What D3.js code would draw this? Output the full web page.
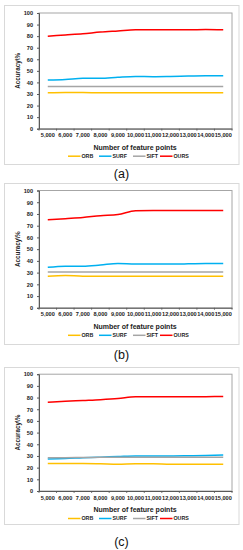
<!DOCTYPE html>
<html><head><meta charset="utf-8">
<script src="https://cdn.jsdelivr.net/npm/d3@7"></script>
<style>
html,body{margin:0;padding:0;background:#fff;}
svg{display:block;}
text{font-family:"Liberation Sans",Arial,sans-serif;}
</style></head>
<body>
<script>
const categories = ["5,000","6,000","7,000","8,000","9,000","10,000","11,000","12,000","13,000","14,000","15,000"];
const yTicks = [0,10,20,30,40,50,60,70,80,90,100];
const seriesNames = ["ORB","SURF","SIFT","OURS"];
const seriesColors = ["#FFC000","#00B0F0","#A5A5A5","#FF0000"];

// panel (a)
const orbA  = [31,31.2,31.2,31,31,31,31,31,31,31,31];
const surfA = [42,42.5,43.5,43.5,44.5,45.2,45,45.2,45.5,45.8,45.8];
const siftA = [36.5,36.5,36.5,36.5,36.5,36.5,36.5,36.5,36.5,36.5,36.5];
const oursA = [80,81,82,83.5,84.5,85.5,85.5,85.5,85.5,85.7,85.5];
// panel (b)
const orbB  = [27,27.5,27,27,27,27,27,27,27,27,27];
const surfB = [34.5,35.5,35.5,36.5,37.8,37.3,37.3,37.3,37.5,37.8,37.8];
const siftB = [30.5,30.5,30.5,30.5,30.5,30.5,30.5,30.5,30.5,30.5,30.5];
const oursB = [75,76,77,78.5,79.5,82.8,83,83,83,83,83];
// panel (c)
const orbC  = [23.5,23.5,23.5,23.3,23,23.3,23.3,23,23,23,23];
const surfC = [27.5,27.8,28.5,29,29.5,30,30,30,30.2,30.5,30.8];
const siftC = [28.5,28.5,28.7,28.8,29,29,29,29,29,29,29];
const oursC = [76,76.8,77.5,78.2,79.2,80.8,80.6,80.6,80.6,80.8,81];

const panels = [
  {label:"(a)", data:[orbA,surfA,siftA,oursA], boxTop:5,   boxBot:164, plotTop:13,  plotBot:128.7, capY:177.5},
  {label:"(b)", data:[orbB,surfB,siftB,oursB], boxTop:183, boxBot:344, plotTop:190.5, plotBot:307.8, capY:358.5},
  {label:"(c)", data:[orbC,surfC,siftC,oursC], boxTop:367, boxBot:524, plotTop:374.2, plotBot:491, capY:545.5}
];

const svg = d3.select("body").append("svg").attr("width",243).attr("height",550);

const plotLeft = 39, plotRight = 232;

panels.forEach(p => {
  const g = svg.append("g");
  g.append("rect").attr("x",4.5).attr("y",p.boxTop+0.5).attr("width",234.5).attr("height",p.boxBot-p.boxTop)
    .attr("fill","#fff").attr("stroke","#d9d9d9").attr("stroke-width",1);

  const x = d3.scaleBand().domain(categories).range([plotLeft,plotRight]);
  const y = d3.scaleLinear().domain([0,100]).range([p.plotBot,p.plotTop]);

  g.append("rect").attr("x",plotLeft).attr("y",p.plotTop).attr("width",plotRight-plotLeft).attr("height",p.plotBot-p.plotTop)
    .attr("fill","none").attr("stroke","#a6a6a6").attr("stroke-width",1);

  const ya = g.append("g").attr("transform",`translate(${plotLeft},0)`)
    .call(d3.axisLeft(y).tickValues(yTicks).tickSize(2).tickPadding(4));
  ya.select(".domain").attr("stroke","#595959");
  ya.selectAll(".tick line").attr("stroke","#595959");
  ya.selectAll("text").attr("font-size",5.6).attr("font-weight","bold").attr("fill","#222").attr("font-family","'Liberation Sans',Arial,sans-serif");

  const xa = g.append("g").attr("transform",`translate(0,${p.plotBot})`)
    .call(d3.axisBottom(x).tickSize(0).tickPadding(8));
  xa.select(".domain").attr("stroke","#595959");
  xa.selectAll("text").attr("font-size",5.6).attr("font-weight","bold").attr("fill","#222").attr("dy","0.1em").attr("font-family","'Liberation Sans',Arial,sans-serif");
  const bounds = categories.map(c => x(c)).concat([plotRight]);
  g.selectAll(".bt").data(bounds).enter().append("line")
    .attr("x1",d=>d).attr("x2",d=>d).attr("y1",p.plotBot).attr("y2",p.plotBot+2)
    .attr("stroke","#595959").attr("stroke-width",0.8);

  const line = d3.line()
    .x((d,i)=>x(categories[i])+x.bandwidth()/2)
    .y(d=>y(d))
    .curve(d3.curveMonotoneX);
  p.data.forEach((s,k)=>{
    g.append("path").attr("d",line(s)).attr("fill","none")
      .attr("stroke",seriesColors[k]).attr("stroke-width",1.5);
  });

  g.append("text").attr("x",135).attr("y",p.plotBot+21)
    .attr("text-anchor","middle").attr("font-size",7).attr("font-weight","bold").attr("fill","#222")
    .text("Number of feature points");
  const cy = (p.plotTop+p.plotBot)/2;
  g.append("text").attr("transform",`translate(19.5,${cy}) rotate(-90)`)
    .attr("text-anchor","middle").attr("font-size",6.3).attr("font-weight","bold").attr("fill","#222")
    .text("Accuracy\\%");

  const ly = p.plotBot+27.5;
  const lx = [68,99,133,160];
  seriesNames.forEach((n,k)=>{
    g.append("line").attr("x1",lx[k]).attr("x2",lx[k]+12.5).attr("y1",ly).attr("y2",ly)
      .attr("stroke",seriesColors[k]).attr("stroke-width",1.5);
    g.append("text").attr("x",lx[k]+13.5).attr("y",ly+1.9).attr("font-size",5.3).attr("font-weight","bold").attr("fill","#222")
      .text(n);
  });

  svg.append("text").attr("x",121.5).attr("y",p.capY).attr("text-anchor","middle")
    .attr("font-size",12.5).attr("font-family","'Liberation Serif','Times New Roman',serif").attr("fill","#111")
    .text(p.label);
});
</script>
</body></html>
